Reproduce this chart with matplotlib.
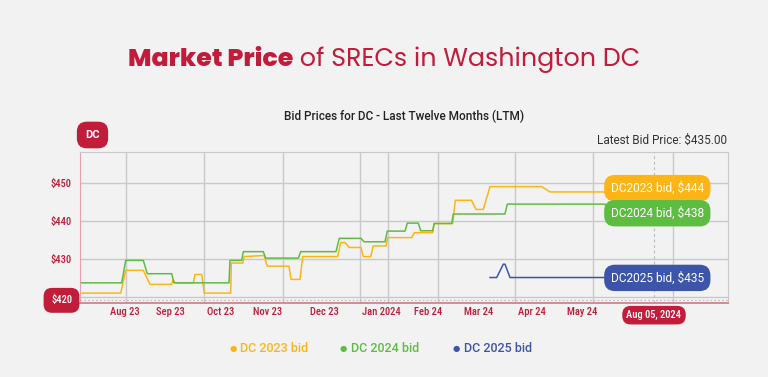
import matplotlib
matplotlib.use("Agg")
import matplotlib.pyplot as plt
from matplotlib import font_manager

# series breakpoints, x = position along the chart, y = bid price ($)
dc2023_x = [0.2, 4.07, 4.57, 6.33, 7.0, 9.17, 9.3, 9.5, 11.33, 11.5, 12.17, 12.43, 15.07, 15.13,
            16.27, 16.43, 18.4, 18.73, 20.9, 21.1, 22.0, 22.27, 25.77, 26.07, 26.5, 26.93, 28.1,
            28.33, 29.07, 29.33, 30.6, 30.77, 33.17, 33.43, 35.27, 35.4, 37.27, 37.53, 39.15,
            39.6, 40.33, 41.0, 46.17, 47.0, 52.7]
dc2023_y = [421.1, 421.1, 427.1, 427.1, 423.4, 423.4, 424.6, 423.8, 423.8, 426.0, 426.0, 421.1,
            421.1, 429.0, 429.0, 430.7, 431.0, 428.2, 428.2, 424.7, 424.7, 430.7, 430.7, 434.4,
            434.4, 433.1, 433.1, 430.7, 430.7, 433.5, 433.5, 435.7, 435.7, 437.0, 437.0, 439.4,
            439.4, 445.5, 445.5, 443.1, 443.1, 449.1, 449.1, 447.7, 447.7]

dc2024_x = [0.17, 4.17, 4.57, 6.33, 6.73, 9.17, 9.4, 14.9, 15.0, 16.17, 16.33, 18.33, 18.57,
            21.83, 22.07, 25.6, 25.93, 28.1, 28.4, 30.5, 30.73, 32.5, 32.73, 33.83, 34.07, 35.27,
            35.43, 37.17, 37.33, 42.5, 42.73, 52.5, 52.9]
dc2024_y = [423.8, 423.8, 429.7, 429.7, 426.2, 426.2, 423.8, 423.8, 429.7, 429.7, 432.0, 432.0,
            430.3, 430.3, 432.0, 432.0, 435.5, 435.5, 434.6, 434.6, 437.4, 437.4, 439.5, 439.5,
            437.5, 437.5, 439.4, 439.4, 441.9, 441.9, 444.5, 444.5, 442.3]

dc2025_x = [41.0, 41.67, 42.33, 42.5, 43.0, 52.7]
dc2025_y = [425.2, 425.2, 428.7, 428.7, 425.2, 425.2]

month_labels = ["Aug 23", "Sep 23", "Oct 23", "Nov 23", "Dec 23", "Jan 2024", "Feb 24",
                "Mar 24", "Apr 24", "May 24"]
month_pos = [4.5, 9.0, 14.1, 18.8, 24.4, 30.1, 34.8, 39.9, 45.17, 50.17]
grid_x = [4.57, 12.4, 20.27, 28.0, 30.77, 35.77, 43.5, 51.33, 59.33]
price_ticks = [420, 430, 440, 450]

latest = {"DC2023": 444, "DC2024": 438, "DC2025": 435}
cursor_x, cursor_y = 57.4, 419.2

RED = "#c11d3a"
YEL = "#fdb515"
GRN = "#5dbd41"
BLU = "#3c55a8"
BG = "#f2f2f2"

# look for a condensed face for the axis labels
cands = [f for f in font_manager.fontManager.ttflist
         if "Condensed" in f.name or "Narrow" in f.name
         or f.stretch in ("condensed", "semi-condensed", 75, 87.5)]
cands.sort(key=lambda f: (not f.name.startswith("Roboto"), not f.name.startswith("Liberation"),
                          f.weight not in (500, 600, "medium", "semibold")))
if cands:
    narrow_fp = font_manager.FontProperties(fname=cands[0].fname, size=7.6)
else:
    narrow_fp = font_manager.FontProperties(family="Roboto", size=7.0)

plt.rcParams["font.family"] = ["Roboto", "DejaVu Sans"]
fig = plt.figure(figsize=(7.68, 3.77), dpi=100, facecolor=BG)
ax = fig.add_axes([80 / 768, 1 - 303 / 377, 648 / 768, 151 / 377])
ax.set_facecolor(BG)

for gx in grid_x:
    ax.axvline(gx, color="#c9c9c9", lw=1.0, zorder=1)
for py in price_ticks:
    ax.axhline(py, color="#c9c9c9", lw=1.0, zorder=1)
ax.axhline(cursor_y, color="#bbbbbb", lw=0.8, ls=(0, (1.5, 2)), zorder=1)
ax.axvline(cursor_x, color="#bbbbbb", lw=0.8, ls=(0, (2.5, 2.5)), zorder=1)

ax.plot(dc2023_x, dc2023_y, color=YEL, lw=1.1, zorder=3)
ax.plot(dc2024_x, dc2024_y, color=GRN, lw=1.1, zorder=3)
ax.plot(dc2025_x, dc2025_y, color=BLU, lw=1.1, zorder=3)

ax.set_xlim(0, 64.8)
ax.set_ylim(418.5, 458.2)
ax.set_xticks(month_pos)
ax.set_xticklabels(month_labels, fontproperties=narrow_fp, color=RED)
ax.set_yticks(price_ticks[1:])
ax.set_yticklabels([f"${v}" for v in price_ticks[1:]], fontproperties=narrow_fp, color=RED)
ax.tick_params(length=0, pad=6)
ax.tick_params(axis="x", pad=3)
for s in ["top", "right"]:
    ax.spines[s].set_color("#c9c9c9")
ax.spines["left"].set_color("#e6a3ad")
ax.spines["bottom"].set_color("#de7d8c")
ax.spines["bottom"].set_linewidth(1.3)

# end-of-line badges
badge_y = [448.7, 442.1, 425.1]
for (name, val), col, by in zip(latest.items(), [YEL, GRN, BLU], badge_y):
    ax.text(57.73, by, f"{name} bid, ${val}", color="white", fontsize=8.6, ha="center",
            va="center", zorder=5,
            bbox=dict(boxstyle="round,pad=0.55,rounding_size=0.9", fc=col, ec="none"))

# crosshair badges
ax.text(-1.85, cursor_y, f"${price_ticks[0]}", color="white", fontproperties=narrow_fp,
        ha="center", va="center", zorder=6, clip_on=False,
        bbox=dict(boxstyle="round,pad=0.7,rounding_size=0.8", fc=RED, ec="none"))
ax.text(cursor_x, 415.3, "Aug 05, 2024", color="white", fontproperties=narrow_fp,
        ha="center", va="center", zorder=6, clip_on=False,
        bbox=dict(boxstyle="round,pad=0.4,rounding_size=0.8", fc=RED, ec="none"))

fig.text(92.5 / 768, 1 - 135 / 377, "DC", color="white", fontsize=8, fontweight="bold",
         ha="center", va="center",
         bbox=dict(boxstyle="round,pad=0.75,rounding_size=0.9", fc=RED, ec="none"))
fig.text(727 / 768, 1 - 140 / 377, "Latest Bid Price: $435.00", color="#333333",
         fontsize=8.5, ha="right", va="center")
fig.text(404 / 768, 1 - 116 / 377, "Bid Prices for DC - Last Twelve Months (LTM)",
         color="#222222", fontsize=8.5, fontweight="medium", ha="center", va="center")

# title in two weights
fig.canvas.draw()
r = fig.canvas.get_renderer()
t1 = fig.text(0, 1 - 60 / 377, "Market Price", color=RED, fontsize=18.2,
              family=["Poppins", "Lato", "DejaVu Sans"], fontweight="heavy", va="center")
t2 = fig.text(0, 1 - 60 / 377, " of SRECs in Washington DC", color=RED, fontsize=18.2,
              family=["Poppins", "Lato", "DejaVu Sans"], va="center")
w1 = t1.get_window_extent(r).width
w2 = t2.get_window_extent(r).width
x0 = (768 - w1 - w2) / 2
t1.set_x(x0 / 768)
t2.set_x((x0 + w1) / 768)

# legend
leg_y = 1 - 348 / 377
for dot_x, col, name in zip([232.7, 343.3, 456.0], [YEL, GRN, BLU], latest.keys()):
    fig.text(dot_x / 768, leg_y, "\u25cf", color=col, fontsize=6, ha="center", va="center",
             family="DejaVu Sans")
    fig.text((dot_x + 7.5) / 768, leg_y, f"DC {name[2:]} bid", color=col, fontsize=9,
             fontweight="medium", ha="left", va="center")

fig.savefig("out.png", dpi=100, facecolor=BG)
